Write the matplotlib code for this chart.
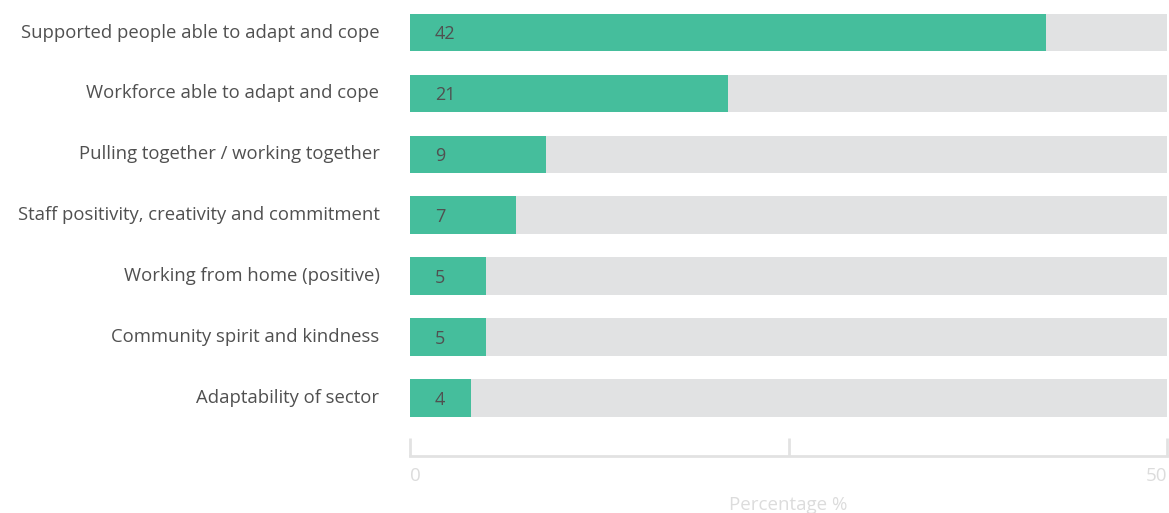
import matplotlib
matplotlib.use("Agg")
import matplotlib.pyplot as plt

categories = [
    "Supported people able to adapt and cope",
    "Workforce able to adapt and cope",
    "Pulling together / working together",
    "Staff positivity, creativity and commitment",
    "Working from home (positive)",
    "Community spirit and kindness",
    "Adaptability of sector",
]
values = [42, 21, 9, 7, 5, 5, 4]
axis_max = 50
tick_values = [0, 25, 50]
tick_labels = ["0", "", "50"]
x_title = "Percentage %"

GREEN = "#45be9c"
TRACK = "#e1e2e3"
TEXT = "#505050"
AXIS = "#e2e2e2"
AXIS_TEXT = "#dcdcdc"

plt.rcParams["font.family"] = ["Open Sans", "DejaVu Sans"]

W, H = 1169, 513
fig = plt.figure(figsize=(W / 100, H / 100), dpi=100)
ax = fig.add_axes([410 / W, (H - 456) / H, 757 / W, 456 / H])

ypos = list(range(len(categories)))
bar_h = 0.62
ax.barh(ypos, [axis_max] * len(ypos), height=bar_h, color=TRACK, linewidth=0)
ax.barh(ypos, values, height=bar_h, color=GREEN, linewidth=0)

for y, v in zip(ypos, values):
    ax.annotate(str(v), xy=(0, y), xytext=(18, -1), textcoords="offset points",
                ha="left", va="center", fontsize=13, color=TEXT)

ax.set_xlim(0, axis_max)
ax.set_ylim(len(categories) - 1 + 0.95, -0.534)

ax.set_yticks(ypos)
ax.set_yticklabels(categories, fontsize=13.3, color=TEXT, va="center")
ax.tick_params(axis="y", length=0, pad=22)

ax.set_xticks(tick_values)
ax.set_xticklabels(tick_labels, fontsize=13.5, color=AXIS_TEXT)
ax.tick_params(axis="x", direction="in", length=13, width=2, color=AXIS, pad=8)
xl = ax.get_xticklabels()
xl[0].set_ha("left")
xl[-1].set_ha("right")

ax.set_xlabel(x_title, fontsize=13.5, color=AXIS_TEXT, labelpad=7.5)

for s in ["top", "right", "left"]:
    ax.spines[s].set_visible(False)
ax.spines["bottom"].set_color(AXIS)
ax.spines["bottom"].set_linewidth(2)

fig.savefig("out.png", dpi=100, facecolor="white")
